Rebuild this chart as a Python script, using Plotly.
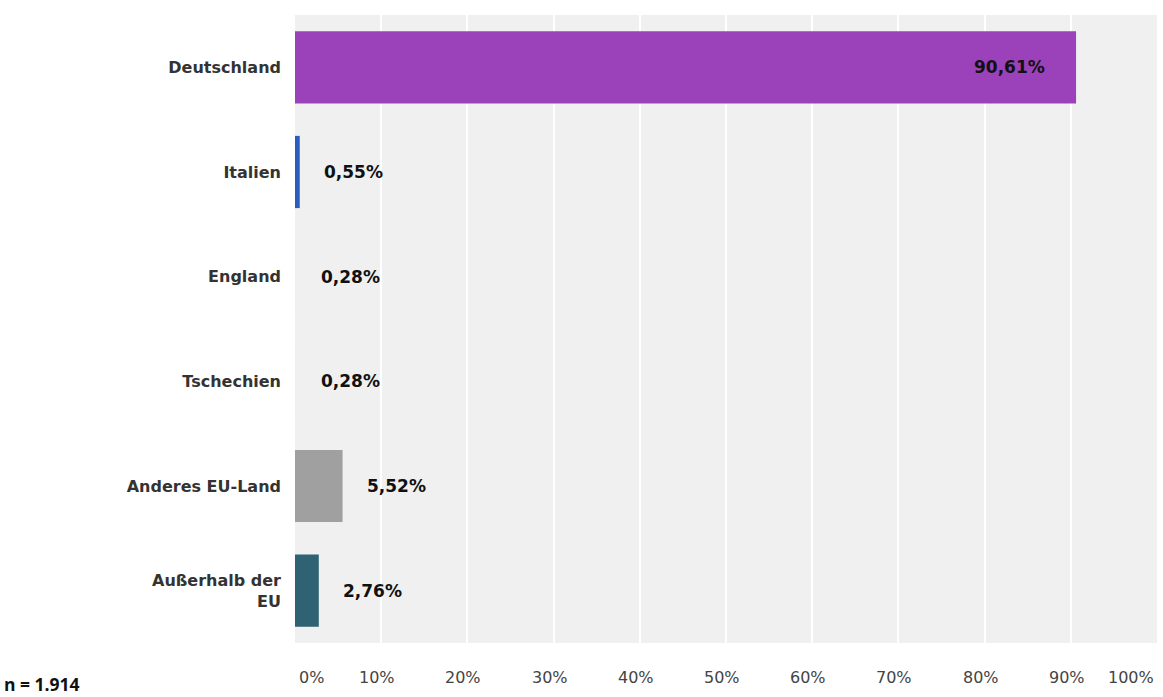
import plotly.graph_objects as go

# Herkunftsland der Befragten (Anteile in %)
countries = ["Deutschland", "Italien", "England", "Tschechien", "Anderes EU-Land", "Außerhalb der<br>EU"]
shares = [90.61, 0.55, 0.28, 0.28, 5.52, 2.76]
bar_colors = ["#9b41ba", "#2b5cc0", "#efefef", "#efefef", "#a0a0a0", "#2f6273"]
tick_vals = [0, 10, 20, 30, 40, 50, 60, 70, 80, 90, 100]
tick_labels = [f"{v}%" for v in tick_vals]
sample_note = "n = 1.914"

W, H = 1163, 697
M = dict(l=295, r=6, t=15, b=54)
plot_w = W - M["l"] - M["r"]
FONT = "DejaVu Sans, Verdana, sans-serif"


def fmt(v):
    return f"{v:.2f}".replace(".", ",") + "%"


fig = go.Figure(
    go.Bar(
        x=shares,
        y=countries,
        orientation="h",
        marker=dict(color=bar_colors, line=dict(width=0)),
        width=0.69,
        hoverinfo="skip",
    )
)

annotations = []
# value labels: inside the long bar, to the right of the short ones
for c, v in zip(countries, shares):
    inside = v > 50
    annotations.append(dict(
        x=v, y=c, xref="x", yref="y",
        text=f"<b>{fmt(v)}</b>",
        showarrow=False,
        xanchor="right" if inside else "left",
        xshift=-29 if inside else 22,
        font=dict(family=FONT, size=17, color="#111111"),
    ))

# percentage scale beneath the plot area
for v, lab in zip(tick_vals, tick_labels):
    if v == tick_vals[0]:
        anchor, shift = "left", 2
    elif v == tick_vals[-1]:
        anchor, shift = "right", -1
    else:
        anchor, shift = "center", -4
    annotations.append(dict(
        x=v, y=0, xref="x", yref="paper",
        text=lab, showarrow=False,
        xanchor=anchor, xshift=shift,
        yanchor="middle", yshift=-34,
        font=dict(family=FONT, size=16, color="#444444"),
    ))

# sample size note in the lower left corner
annotations.append(dict(
    x=(3 - M["l"]) / plot_w, y=0, xref="paper", yref="paper",
    text=f"<b>{sample_note}</b>", showarrow=False,
    xanchor="left", yanchor="middle", yshift=-41,
    borderpad=0,
    font=dict(family="Open Sans, sans-serif", size=17.5, color="#111111"),
))

fig.update_layout(
    width=W, height=H,
    margin=M,
    paper_bgcolor="white",
    plot_bgcolor="#f0f0f0",
    showlegend=False,
    bargap=0.31,
    annotations=annotations,
    xaxis=dict(
        range=[0, 100],
        tickvals=tick_vals,
        showticklabels=False,
        showgrid=True,
        gridcolor="white",
        gridwidth=1.5,
        zeroline=False,
        fixedrange=True,
    ),
    yaxis=dict(
        autorange="reversed",
        showgrid=False,
        zeroline=False,
        ticks="",
        ticklabelstandoff=13,
        tickfont=dict(family=FONT, size=16, color="#333333", weight="bold"),
        fixedrange=True,
    ),
)

fig.write_html("out.html", config={"displayModeBar": False})
